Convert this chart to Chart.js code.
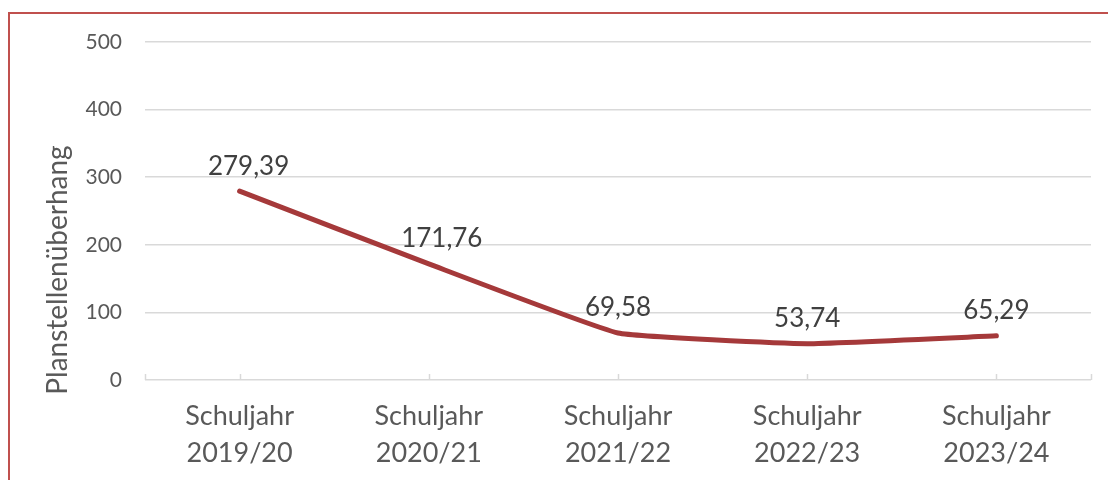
<!DOCTYPE html>
<html>
<head>
<meta charset="utf-8">
<script src="https://cdn.jsdelivr.net/npm/chart.js@4/dist/chart.umd.min.js"></script>
<style>
  html, body { margin: 0; padding: 0; background: #fff; }
  #wrap { position: relative; width: 1108px; height: 480px; overflow: hidden; }
  #frame { position: absolute; left: 8px; top: 12px; width: 1200px; height: 600px;
           border-left: 2px solid #C0504D; border-top: 2px solid #C0504D; box-sizing: border-box; }
  canvas { position: absolute; left: 0; top: 0; }
</style>
</head>
<body>
<div id="wrap">
  <div id="frame"></div>
  <canvas id="c" width="1108" height="480"></canvas>
</div>
<script>
const categories = [["Schuljahr", "2019/20"], ["Schuljahr", "2020/21"], ["Schuljahr", "2021/22"], ["Schuljahr", "2022/23"], ["Schuljahr", "2023/24"]];
const values = [279.39, 171.76, 69.58, 53.74, 65.29];
const valueLabels = ["279,39", "171,76", "69,58", "53,74", "65,29"];
const yTitle = "Planstellenüberhang";

const FONT = "Lato, 'Open Sans', sans-serif";

const labelPlugin = {
  id: 'labels',
  afterDatasetsDraw(chart) {
    const ctx = chart.ctx;
    const meta = chart.getDatasetMeta(0);
    ctx.save();
    ctx.font = "26px " + FONT;
    ctx.fillStyle = "#404040";
    ctx.textAlign = "center";
    ctx.textBaseline = "middle";
    meta.data.forEach((pt, i) => {
      ctx.fillText(valueLabels[i], pt.x + (i === 0 ? 9 : i === 1 ? 13 : 0), pt.y - 25);
    });
    ctx.restore();
  }
};

const titlePlugin = {
  id: 'ytitle',
  afterDraw(chart) {
    const ctx = chart.ctx;
    ctx.save();
    ctx.font = "28px " + FONT;
    ctx.fillStyle = "#595959";
    ctx.textAlign = "center";
    ctx.textBaseline = "middle";
    ctx.translate(58, 270);
    ctx.rotate(-Math.PI / 2);
    ctx.fillText(yTitle, 0, 0);
    ctx.restore();
  }
};

const tickPlugin = {
  id: 'xticks',
  beforeDatasetsDraw(chart) {
    const ctx = chart.ctx;
    const xs = chart.scales.x;
    const y0 = chart.scales.y.getPixelForValue(0);
    ctx.save();
    ctx.strokeStyle = "#D9D9D9";
    ctx.lineWidth = 1.5;
    const pos = [xs.left, xs.right];
    for (let i = 0; i < categories.length; i++) pos.push(xs.getPixelForValue(i));
    pos.forEach(x => {
      ctx.beginPath();
      ctx.moveTo(Math.round(x) + 0.5, y0);
      ctx.lineTo(Math.round(x) + 0.5, y0 - 6);
      ctx.stroke();
    });
    ctx.restore();
  }
};

new Chart(document.getElementById('c'), {
  type: 'line',
  data: {
    labels: categories,
    datasets: [{
      data: values,
      borderColor: "#A5393A",
      borderWidth: 5,
      pointRadius: 0,
      tension: 0.1,
      borderCapStyle: 'round',
      borderJoinStyle: 'round',
      fill: false
    }]
  },
  options: {
    responsive: false,
    animation: false,
    layout: { padding: { left: 41, right: 17, top: 42, bottom: 0 } },
    plugins: { legend: { display: false }, tooltip: { enabled: false } },
    scales: {
      x: {
        offset: true,
        grid: { display: false, drawTicks: false },
        border: { display: false },
        ticks: { font: { family: FONT, size: 27, lineHeight: 1.37 }, color: "#595959", padding: 18, maxRotation: 0, autoSkip: false },
        afterFit(s) { s.height = 100; }
      },
      y: {
        min: 0, max: 500,
        ticks: { stepSize: 100, font: { family: FONT, size: 21 }, color: "#595959", padding: 23 },
        grid: { color: "#D9D9D9", lineWidth: 1.5, drawTicks: false },
        border: { display: false },
        title: { display: false },
        afterFit(s) { s.width = 104; }
      }
    }
  },
  plugins: [labelPlugin, tickPlugin, titlePlugin]
});
</script>
</body>
</html>
